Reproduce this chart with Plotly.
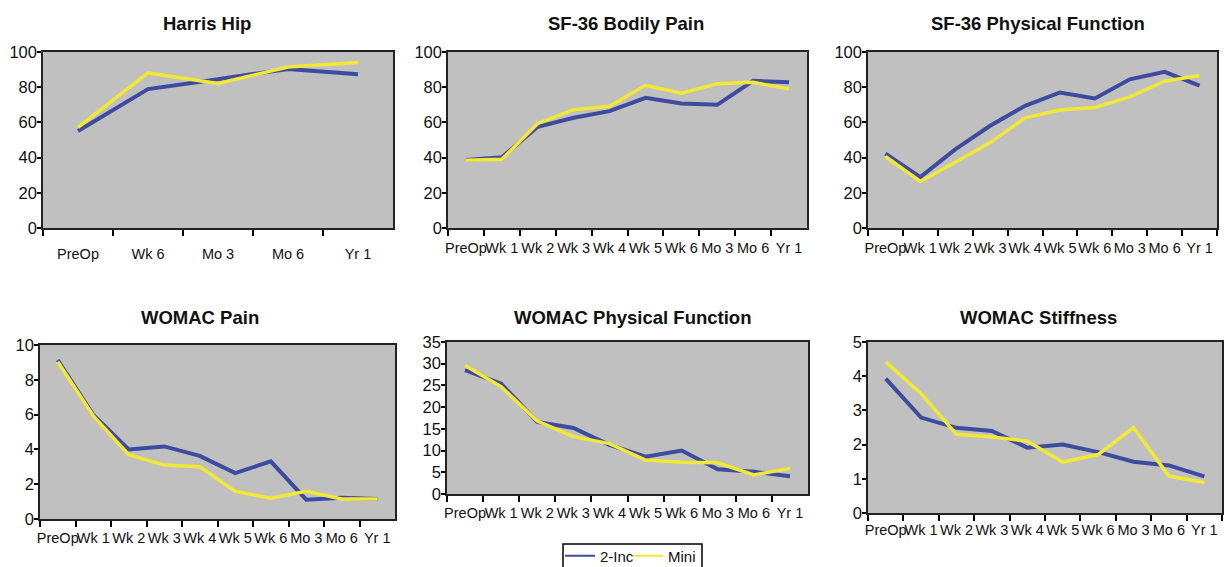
import plotly.graph_objects as go

# ---- data ----
cats5 = ["PreOp", "Wk 6", "Mo 3", "Mo 6", "Yr 1"]
cats10 = ["PreOp", "Wk 1", "Wk 2", "Wk 3", "Wk 4", "Wk 5", "Wk 6", "Mo 3", "Mo 6", "Yr 1"]

harris_2inc = [55.1, 78.9, 84.5, 90.4, 87.4]
harris_mini = [57.2, 88.1, 82.1, 91.5, 94.0]

bp_2inc = [38.7, 40.2, 57.5, 62.6, 66.4, 74.0, 70.8, 70.0, 83.6, 82.8]
bp_mini = [38.5, 39.0, 59.4, 67.2, 69.2, 81.1, 76.6, 81.9, 82.8, 78.9]

pf_2inc = [42.3, 28.9, 44.7, 58.1, 69.4, 77.0, 73.6, 84.5, 88.7, 80.9]
pf_mini = [40.6, 26.4, 37.4, 48.5, 62.6, 67.0, 68.5, 74.5, 83.4, 86.6]

wpain_2inc = [9.14, 5.98, 4.00, 4.17, 3.63, 2.64, 3.31, 1.11, 1.22, 1.15]
wpain_mini = [9.04, 5.93, 3.69, 3.10, 3.00, 1.59, 1.20, 1.59, 1.15, 1.15]

wpf_2inc = [28.5, 25.4, 16.6, 15.2, 11.3, 8.6, 10.0, 5.7, 5.1, 4.1]
wpf_mini = [29.6, 24.7, 16.8, 13.2, 11.6, 7.8, 7.3, 7.2, 4.4, 5.9]

wst_2inc = [3.93, 2.79, 2.49, 2.40, 1.91, 2.00, 1.78, 1.50, 1.39, 1.07]
wst_mini = [4.42, 3.49, 2.30, 2.22, 2.10, 1.49, 1.71, 2.50, 1.08, 0.89]

titles = ["Harris Hip", "SF-36 Bodily Pain", "SF-36 Physical Function",
          "WOMAC Pain", "WOMAC Physical Function", "WOMAC Stiffness"]
series_names = ["2-Inc", "Mini"]

# ---- layout geometry (pixels) ----
W, H = 1228, 567
panels = [
    # (cats, s1, s2, ymax, dtick, x0, x1, ytop, ybot, title_x, title_y, xlabel_standoff)
    (cats5, harris_2inc, harris_mini, 100, 20, 43, 393, 52, 228, 207, 23, 12),
    (cats10, bp_2inc, bp_mini, 100, 20, 448, 807, 52, 228, 626, 23, 6),
    (cats10, pf_2inc, pf_mini, 100, 20, 868, 1217, 52, 228, 1038, 23, 6),
    (cats10, wpain_2inc, wpain_mini, 10, 2, 40, 395, 345, 519, 200, 317, 5),
    (cats10, wpf_2inc, wpf_mini, 35, 5, 447, 808, 342, 494, 632, 317, 5),
    (cats10, wst_2inc, wst_mini, 5, 1, 868, 1222, 342, 513, 1038, 317, 3),
]

BLUE = "#3D4C9E"
YELLOW = "#F2E836"
FONT = "Liberation Sans, Arial, sans-serif"

leg_common = dict(orientation="h", xanchor="left", y=1 - 556 / H, yanchor="middle",
                  bgcolor="rgba(0,0,0,0)", borderwidth=0,
                  font=dict(family=FONT, size=15, color="#111"), itemwidth=30)

fig = go.Figure()
layout = dict(
    width=W, height=H,
    margin=dict(l=0, r=0, t=0, b=0, autoexpand=False),
    paper_bgcolor="white",
    plot_bgcolor="#C0C0C0",
    showlegend=True,
    legend=dict(x=560 / W, **leg_common),
    legend2=dict(x=628 / W, **leg_common),
    annotations=[],
    shapes=[dict(type="rect", xref="paper", yref="paper",
                 x0=563 / W, x1=702 / W, y0=1 - 572 / H, y1=1 - 544 / H,
                 line=dict(color="black", width=1.5), fillcolor="rgba(0,0,0,0)", layer="above")],
)

for i, (cats, s1, s2, ymax, dt, x0, x1, yt, yb, tx, ty, so) in enumerate(panels):
    n = i + 1
    xa = "x" if n == 1 else f"x{n}"
    ya = "y" if n == 1 else f"y{n}"
    fig.add_trace(go.Scatter(x=cats, y=s1, mode="lines", name=series_names[0],
                             line=dict(color=BLUE, width=4), xaxis=xa, yaxis=ya,
                             showlegend=False))
    fig.add_trace(go.Scatter(x=cats, y=s2, mode="lines", name=series_names[1],
                             line=dict(color=YELLOW, width=3.5), xaxis=xa, yaxis=ya,
                             showlegend=False))
    xkey = "xaxis" if n == 1 else f"xaxis{n}"
    ykey = "yaxis" if n == 1 else f"yaxis{n}"
    layout[xkey] = dict(
        domain=[x0 / W, x1 / W], anchor=ya, type="category",
        range=[-0.5, len(cats) - 0.5], tickson="boundaries",
        ticks="outside", ticklen=6, tickcolor="black", tickwidth=1.5,
        showline=True, linecolor="#222", linewidth=1.5, mirror=True,
        showgrid=False, zeroline=False, tickangle=0, ticklabelstandoff=so,
        tickfont=dict(family=FONT, size=14.5, color="#111"), fixedrange=True,
    )
    layout[ykey] = dict(
        domain=[1 - yb / H, 1 - yt / H], anchor=xa,
        range=[0, ymax], dtick=dt, tick0=0,
        ticks="outside", ticklen=4, tickcolor="black", tickwidth=1.5,
        showline=True, linecolor="#222", linewidth=1.5, mirror=True,
        showgrid=False, zeroline=False, ticklabelstandoff=-3,
        tickfont=dict(family=FONT, size=16.5, color="#111"), fixedrange=True,
    )
    layout["annotations"].append(dict(
        text=f"<b>{titles[i]}</b>", x=tx / W, y=1 - ty / H, xref="paper", yref="paper",
        xanchor="center", yanchor="middle", showarrow=False,
        font=dict(family=FONT, size=18.5, color="#111"),
    ))

# legend-only entries with thin line samples
fig.add_trace(go.Scatter(x=[None], y=[None], mode="lines", name=series_names[0],
                         line=dict(color=BLUE, width=2), showlegend=True, legend="legend"))
fig.add_trace(go.Scatter(x=[None], y=[None], mode="lines", name=series_names[1],
                         line=dict(color=YELLOW, width=2), showlegend=True, legend="legend2"))

fig.update_layout(**layout)
fig.write_html("out.html", config={"displayModeBar": False},
               post_script="document.body.style.margin='0';document.body.style.overflow='hidden';")
